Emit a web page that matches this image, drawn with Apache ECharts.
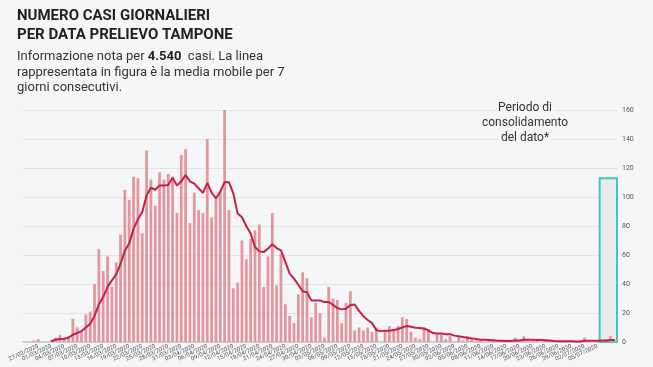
<!DOCTYPE html>
<html>
<head>
<meta charset="utf-8">
<script src="https://cdn.jsdelivr.net/npm/echarts@6/dist/echarts.min.js"></script>
<style>
html,body{margin:0;padding:0;background:#f4f6f8;}
#c{width:653px;height:367px;}
</style>
</head>
<body>
<div id="c"></div>
<script>
// Categories: daily dates from 24/02/2020 to 09/07/2020
var startDate = new Date(2020, 1, 24);
var dayCount = 137;
var categories = [];
for (var k = 0; k < dayCount; k++) {
  var d = new Date(startDate.getFullYear(), startDate.getMonth(), startDate.getDate() + k);
  var dd = ('0' + d.getDate()).slice(-2), mm = ('0' + (d.getMonth() + 1)).slice(-2);
  categories.push(dd + '/' + mm + '/' + d.getFullYear());
}

// Daily cases (bars)
var dailyCases = [
  0, 0, 1, 2, 0, 0, 1, 3, 5, 2,
  4, 16, 10, 7, 19, 21, 40, 64, 49, 59,
  38, 55, 74, 105, 98, 114, 113, 75, 132, 112,
  94, 117, 112, 116, 114, 89, 129, 133, 82, 103,
  91, 89, 140, 86, 99, 104, 160, 91, 37, 41,
  70, 57, 71, 77, 81, 38, 59, 89, 39, 61,
  26, 18, 13, 33, 48, 44, 17, 27, 20, 3,
  38, 30, 29, 13, 27, 35, 8, 10, 8, 10,
  7, 10, 0, 8, 11, 9, 11, 17, 16, 7,
  3, 2, 10, 9, 0, 6, 5, 2, 4, 0,
  4, 1, 4, 3, 1, 1, 0, 1, 1, 0,
  1, 0, 1, 3, 1, 4, 1, 1, 1, 0,
  1, 1, 0, 1, 0, 0, 1, 0, 1, 3,
  1, 0, 1, 1, 0, 4, 1
];

// 7-day moving average (line)
var movingAverage = [
  null, null, null, null, null, null, 0.5, 1.6, 2, 2.3,
  3, 5, 6.2, 7.5, 10, 12.5, 18, 26, 31, 38,
  42.5, 46.7, 54, 63, 68, 78, 84.6, 89.7, 101, 106.4,
  105, 108, 108, 108.3, 113.3, 108, 110.8, 115.2, 110.8, 109.2,
  106, 102.8, 109.7, 103, 99, 103.8, 110.3, 110.2, 102.5, 88.7,
  86, 80, 74.8, 65.5, 62.5, 62, 64.4, 67.4, 64.8, 63.2,
  55.2, 47.1, 43.7, 39.5, 35, 34.3, 28.7, 28.7, 28.7, 27.6,
  27.6, 25.6, 23.4, 22.5, 22.9, 25.5, 25.9, 21.5, 17.8, 15.2,
  13, 8.2, 7.5, 7.7, 7.8, 8.2, 9, 10.1, 11, 10.5,
  9.8, 9.7, 9.3, 8, 6.2, 5.8, 5.8, 5.3, 5.3, 4.4,
  3.9, 3.5, 3, 2.5, 2.1, 1.6, 1.6, 1.4, 1.2, 0.9,
  0.8, 0.7, 0.7, 1, 1.1, 1.5, 1.5, 1.5, 1.4, 1.3,
  1.2, 1.1, 0.7, 0.6, 0.5, 0.5, 0.5, 0.4, 0.4, 0.8,
  0.8, 0.8, 0.9, 1, 1, 1.4, 1.4
];

// Y-axis ticks
var yTicks = [0, 20, 40, 60, 80, 100, 120, 140, 160];

// Consolidation period: from day index 133 to end, up to value 113
var consolidationStart = 133;
var consolidationTop = 113;

var chart = echarts.init(document.getElementById('c'));
var bg = '#f4f6f8';
chart.setOption({
  backgroundColor: bg,
  animation: false,
  title: [{
    text: 'NUMERO CASI GIORNALIERI\nPER DATA PRELIEVO TAMPONE',
    left: 17, top: 7, padding: 0,
    textStyle: {fontFamily: 'Roboto', fontWeight: 'bold', fontSize: 15, lineHeight: 19, color: '#222'}
  }, {
    text: '{n|Informazione nota per }{b|4.540}{n|  casi. La linea}\n{n|rappresentata in figura è la media mobile per 7}\n{n|giorni consecutivi.}',
    left: 17, top: 49, padding: 0,
    textStyle: {
      fontWeight: 'normal', fontFamily: 'Roboto', fontSize: 13, color: '#333',
      rich: {
        n: {fontFamily: 'Roboto', fontSize: 13, lineHeight: 15.5, color: '#333', fontWeight: 'normal'},
        b: {fontFamily: 'Roboto', fontSize: 13, lineHeight: 15.5, color: '#222', fontWeight: 'bold'}
      }
    }
  }],
  graphic: ['Periodo di', 'consolidamento', 'del dato*'].map(function (t, j) {
    return {
      type: 'text', x: 525, y: 108 + j * 15, silent: true, z: 100,
      style: {text: t, fontFamily: 'Roboto', fontSize: 12, fill: '#333', align: 'center', verticalAlign: 'middle',
        backgroundColor: bg, padding: [0, 2]}
    };
  }),
  grid: {left: 23, right: 36, top: 110, bottom: 25},
  xAxis: [{
    type: 'category', data: categories, boundaryGap: true,
    axisLine: {lineStyle: {color: '#c8c8c8', width: 1.5}},
    axisTick: {show: false},
    axisLabel: {interval: 2, rotate: 25, fontSize: 6, color: '#555', margin: 4, fontFamily: 'Roboto', hideOverlap: false},
    splitLine: {show: false}
  }, {
    type: 'value', min: 0, max: dayCount, show: false
  }],
  yAxis: {
    type: 'value', position: 'right', min: yTicks[0], max: yTicks[yTicks.length - 1], interval: 20,
    axisLine: {show: false}, axisTick: {show: false},
    axisLabel: {fontSize: 7, color: '#555', margin: 5, fontFamily: 'Roboto'},
    splitLine: {lineStyle: {color: '#e2e3e5', width: 1}}
  },
  series: [{
    type: 'line', xAxisIndex: 1, data: [], z: 1, silent: true,
    markArea: {
      silent: true,
      itemStyle: {color: '#e9ebeb', borderColor: '#3fcab6', borderWidth: 2},
      data: [[{xAxis: consolidationStart, yAxis: consolidationTop}, {xAxis: dayCount, yAxis: 0}]]
    }
  }, {
    type: 'bar', data: dailyCases, barWidth: '64%', z: 2,
    itemStyle: {color: '#e3969d'}
  }, {
    type: 'line', data: movingAverage, z: 3, symbol: 'none', smooth: false,
    lineStyle: {color: '#c81f48', width: 2}
  }]
});
</script>
</body>
</html>
